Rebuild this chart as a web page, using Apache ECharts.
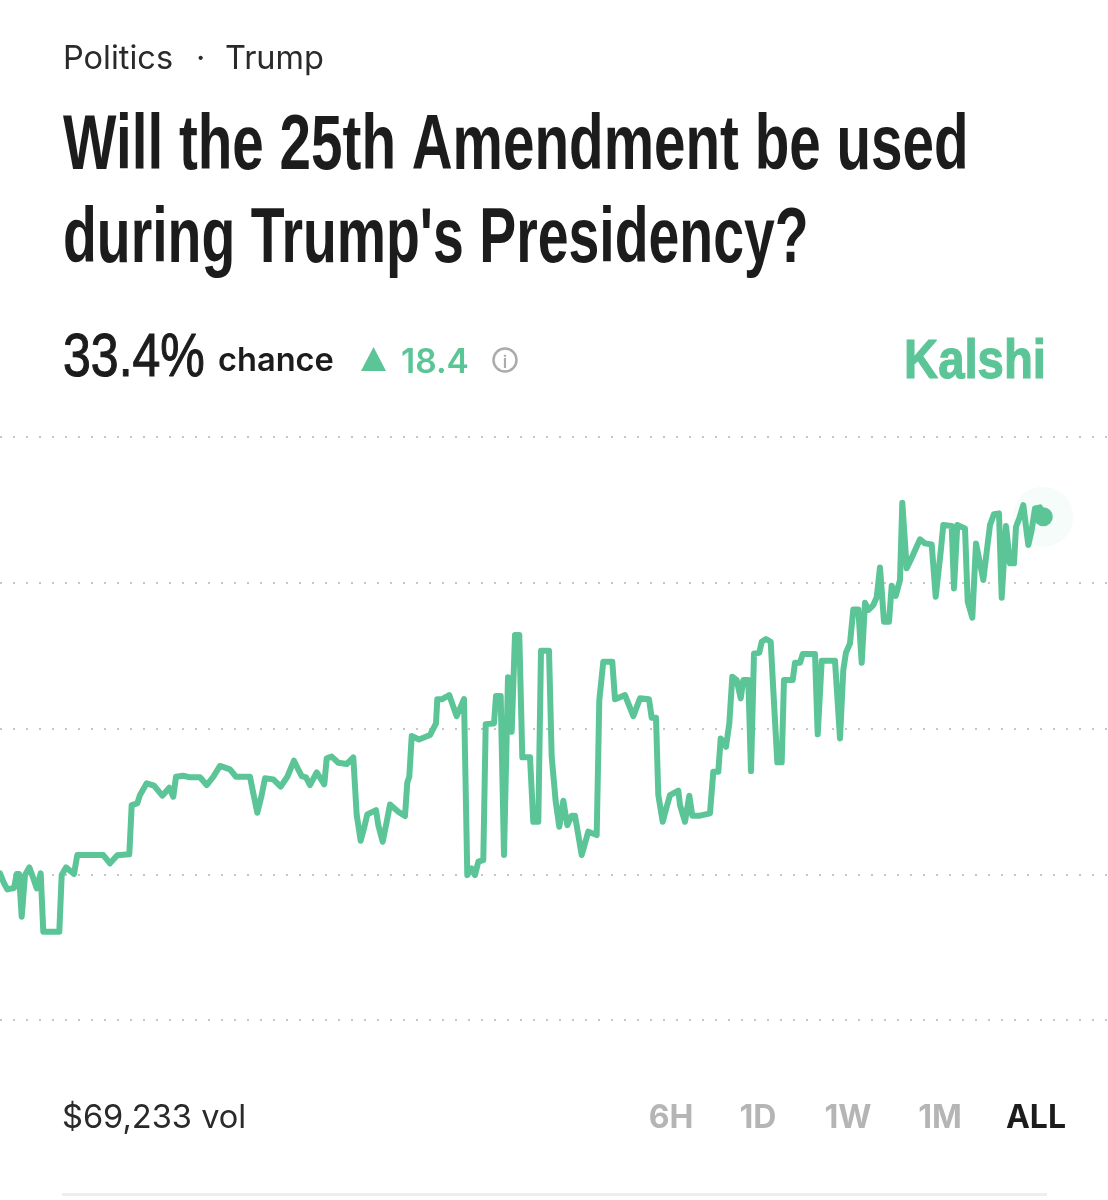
<!DOCTYPE html>
<html>
<head>
<meta charset="utf-8">
<style>html,body{margin:0;padding:0;background:#fff}#c{width:1108px;height:1200px}</style>
<script src="https://cdn.jsdelivr.net/npm/echarts@6/dist/echarts.min.js"></script>
</head>
<body>
<div id="c"></div>
<script>
var timeSteps = [0,4,7.3,14,16.7,19,21.7,25,29.3,33.3,36.7,40.7,43.3,59.3,61.7,66,74,77.3,103.3,110,117.3,129.3,131.7,137.3,140,146.7,154,162.3,169.3,173.3,176,183.3,190,200,206.7,213.3,220,230,236,250,253.3,257.3,261.7,265,273.3,280.7,287.3,294,297.7,301.7,306,310,316.7,324.3,326.7,331.7,338.3,346.7,353.3,
356.7,360.7,364,367.3,376,378.3,382.7,386.7,390,398.3,405,407.3,409.3,411.7,419,430,436,437.3,441.7,449.3,452.7,456.7,464,467.3,471.7,475,478.3,483.3,485.7,494,496,500.7,504,508,511.7,515,519.3,522.3,530,533.3,538.3,541,549,551.7,555.7,559.3,563.3,567.3,571.7,575,578.3,581.7,588.3,596.7,599.3,603.3,612.3,615,625,633.3,640,649,651.7,656,658.3,662.7,666.7,670,678.3,680,685,689.3,692.3,700,710,
713.3,718.3,720.7,726,729.3,732.3,736.7,740.7,743.3,748.3,751,754,759.3,761.7,766,770.7,773.3,777.3,781.7,784,792.7,795,800,802.7,815,817.7,821.7,835,840,843.3,846,850,853.3,858.3,861.7,865,868.3,873.3,876.7,880,884,889,891.7,895.7,900,902.3,906.7,910.7,920,925,931.7,935.7,940.7,943.3,951.7,954,957.3,965,967.7,972.3,976,983.3,987.3,990,994,999,1001.7,1006,1010,1014,1016,1019.3,1023.3,1028.3,1031.7,1035,1040,1043.3];
var chancePct = [10.06,9.38,8.96,9.06,10.02,10.02,7.09,9.95,10.47,9.72,9.03,10.06,6.06,6.06,9.95,10.47,10.02,11.32,11.32,10.75,11.30,11.37,14.75,14.86,15.44,16.24,16.08,15.39,15.94,15.32,16.69,16.76,16.65,16.65,16.12,16.69,17.43,17.20,16.69,16.69,15.55,14.22,15.44,16.58,16.51,16.01,16.69,17.79,17.27,16.74,16.65,16.12,16.99,16.17,17.95,18.07,17.65,17.56,18.02,
14.06,12.30,13.15,14.11,14.40,13.37,12.23,13.60,14.79,14.29,13.99,16.30,16.69,19.48,19.25,19.55,20.35,22.00,22.00,22.29,21.61,20.85,22.02,9.94,10.40,9.94,10.86,10.97,20.30,20.35,22.23,22.23,11.32,23.51,19.78,26.41,26.41,18.02,18.02,13.60,13.60,25.34,25.34,18.06,14.98,13.26,15.04,13.37,14.02,14.02,12.69,11.32,12.92,12.69,21.95,24.58,24.58,22.00,22.29,20.85,22.07,22.00,20.74,20.74,15.43,13.60,14.63,15.43,15.73,14.75,13.60,15.39,14.02,14.02,14.18,
17.03,17.03,19.32,18.75,20.35,23.55,23.32,22.07,23.32,23.32,17.08,25.15,25.20,25.95,26.14,25.95,22.64,17.68,17.68,23.32,23.32,24.51,24.51,25.11,25.11,19.60,24.65,24.65,19.32,24.01,25.22,25.84,28.17,28.17,24.51,28.63,28.13,28.47,29.00,31.05,27.33,27.33,29.80,29.09,30.19,35.49,30.99,31.56,32.98,32.70,32.63,29.04,32.13,33.96,33.89,29.61,33.96,33.73,28.70,27.60,32.70,30.19,32.47,33.96,34.71,34.76,28.97,33.89,31.33,31.33,33.84,34.42,35.33,32.59,33.62,35.10,35.17,34.53];
var gridTicks = [0,10,20,30,40];
var rangeButtons = ['6H','1D','1W','1M','ALL'];
var headline = ["Will the 25th Amendment be used","during Trump's Presidency?"];

var GREEN = '#5BC597', TEXT = '#1c1c1c';
var NARROW = '"Liberation Sans",sans-serif';
var SANS = 'Inter,"Noto Sans",sans-serif';

function label(x, base, text, size, weight, family, fill, extra) {
  extra = extra || {};
  var style = {text: text, font: weight + ' ' + size + 'px ' + family, fill: fill, textAlign: extra.align || 'left'};
  if (extra.stroke) { style.stroke = fill; style.lineWidth = extra.stroke; }
  return {type: 'text', x: x, y: base - Math.round(size * (family === NARROW ? 0.8 : 0.78)), scaleX: extra.sx || 1, style: style, silent: true};
}
var btnX = [671, 758, 848, 940, 1036];
var graphics = [
  label(63, 68, 'Politics', 32.5, 400, SANS, '#2a2a2a'),
  label(196, 68, '·', 32.5, 400, SANS, '#2a2a2a'),
  label(225, 68, 'Trump', 32.5, 400, SANS, '#2a2a2a'),
  label(63, 170, headline[0], 78, 700, NARROW, TEXT, {sx: 0.726}),
  label(63, 263, headline[1], 78, 700, NARROW, TEXT, {sx: 0.71}),
  label(63, 378, '33.4%', 61, 400, NARROW, TEXT, {sx: 0.82, stroke: 1.1}),
  label(218, 370, 'chance', 32.6, 600, SANS, TEXT),
  {type: 'polygon', shape: {points: [[373.5,347],[386,371],[361,371]]}, style: {fill: GREEN}, silent: true},
  label(401, 372, '18.4', 33.5, 600, SANS, GREEN),
  {type: 'circle', shape: {cx: 505, cy: 360, r: 11.5}, style: {fill: 'none', stroke: '#ababab', lineWidth: 2.5}, silent: true},
  label(505, 367, 'i', 17, 600, SANS, '#ababab', {align: 'center'}),
  label(904, 379, 'Kalshi', 55, 700, NARROW, GREEN, {sx: 0.86, stroke: 1.2}),
  label(62, 1127, '$69,233 vol', 32.6, 400, SANS, '#2a2a2a'),
  {type: 'rect', shape: {x: 62, y: 1193, width: 985, height: 3}, style: {fill: '#eeeeee'}, silent: true}
];
rangeButtons.forEach(function (b, i) {
  graphics.push(label(btnX[i], 1127, b, 32, 700, SANS, i === 4 ? TEXT : '#b5b5b5', {align: 'center'}));
});

var lineData = timeSteps.map(function (t, i) { return [t, chancePct[i]]; });
var last = lineData[lineData.length - 1];

var chart = echarts.init(document.getElementById('c'), null, {width: 1108, height: 1200});
chart.setOption({
  animation: false,
  backgroundColor: '#ffffff',
  grid: {left: 0, right: 0, top: 437, bottom: 180},
  xAxis: {type: 'value', min: 0, max: 1108, show: false},
  yAxis: {
    type: 'value', min: gridTicks[0], max: gridTicks[gridTicks.length - 1], interval: 10,
    axisLine: {show: false}, axisTick: {show: false}, axisLabel: {show: false},
    splitLine: {show: true, lineStyle: {color: '#c6c6c6', width: 2, type: [2, 11]}}
  },
  series: [
    {type: 'scatter', data: [last], symbolSize: 60, itemStyle: {color: '#f6fcf9', opacity: 1}, silent: true, z: 1},
    {type: 'line', data: lineData, showSymbol: false, smooth: false, lineStyle: {color: GREEN, width: 6, join: 'round', cap: 'round'}, z: 2, silent: true},
    {type: 'scatter', data: [last], symbolSize: 19, itemStyle: {color: GREEN, opacity: 1}, silent: true, z: 3}
  ],
  graphic: graphics
});
</script>
</body>
</html>
